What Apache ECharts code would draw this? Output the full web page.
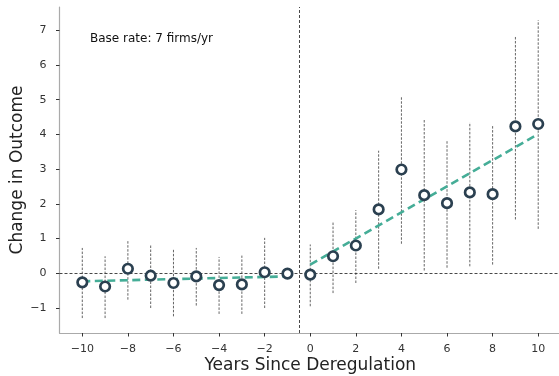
<!DOCTYPE html>
<html>
<head>
<meta charset="utf-8">
<script src="https://cdn.jsdelivr.net/npm/echarts@6/dist/echarts.min.js"></script>
<style>html,body{margin:0;padding:0;background:#fff;}#c{width:559px;height:376px;}</style>
</head>
<body>
<div id="c"></div>
<script>
// ---- data ----
const years = [-10,-9,-8,-7,-6,-5,-4,-3,-2,-1,0,1,2,3,4,5,6,7,8,9,10];
const estimates = [-0.26,-0.38,0.13,-0.07,-0.28,-0.09,-0.34,-0.32,0.03,-0.01,-0.04,0.49,0.80,1.84,2.99,2.25,2.02,2.33,2.28,4.23,4.30];
const ciLow  = [-1.29,-1.29,-0.76,-1.00,-1.24,-0.93,-1.17,-1.17,-1.00,null,-0.95,-0.57,-0.28,0.13,0.85,0.08,0.16,0.20,0.25,1.55,1.28];
const ciHigh = [0.73,0.49,0.95,0.83,0.69,0.73,0.47,0.51,1.02,null,0.83,1.50,1.82,3.53,5.09,4.42,3.82,4.35,4.27,6.84,7.29];
const preTrendX = [-10,-1];
const preTrendY = [-0.23,-0.09];
const postTrendX = [0,10];
const postTrendY = [0.25,4.01];
const xTicks = [-10,-8,-6,-4,-2,0,2,4,6,8,10];
const yTicks = [-1,0,1,2,3,4,5,6,7];
const eventLine = -0.5;
const annotation = 'Base rate: 7 firms/yr';

const fmt = v => (v < 0 ? '\u2212' + Math.abs(v) : String(v));
const font = 'DejaVu Sans';

const errData = [];
years.forEach((y,i)=>{ if (ciLow[i] !== null) errData.push([y, ciLow[i], ciHigh[i]]); });

const chart = echarts.init(document.getElementById('c'), null, {renderer:'canvas'});
chart.setOption({
  animation:false,
  backgroundColor:'#fff',
  grid:{left:59.5, right:-2, top:7, bottom:43, containLabel:false, outerBoundsMode:'none'},
  xAxis:{
    type:'value', min:-11, max:11,
    name:'Years Since Deregulation', nameLocation:'middle', nameGap:24, nameMoveOverlap:false,
    nameTextStyle:{fontFamily:font, fontSize:17, color:'#222'},
    axisLine:{show:true, onZero:false, lineStyle:{color:'#aaa', width:1.2}},
    axisTick:{show:true, length:3.5, lineStyle:{color:'#333'}, customValues:xTicks},
    axisLabel:{fontFamily:font, fontSize:11, color:'#333', margin:10.5, formatter:fmt, customValues:xTicks},
    splitLine:{show:false}
  },
  yAxis:{
    type:'value', min:-1.72, max:7.67,
    name:'Change in Outcome', nameLocation:'middle', nameGap:33, nameMoveOverlap:false,
    nameTextStyle:{fontFamily:font, fontSize:17, color:'#222'},
    axisLine:{show:true, onZero:false, lineStyle:{color:'#aaa', width:1.2}},
    axisTick:{show:true, length:3.5, lineStyle:{color:'#333'}, customValues:yTicks},
    axisLabel:{fontFamily:font, fontSize:11, color:'#333', margin:13, formatter:fmt, customValues:yTicks},
    splitLine:{show:false}
  },
  graphic:[{
    type:'text', left:90, top:33,
    style:{text:annotation, font:'12px "DejaVu Sans"', fill:'#111'}
  }],
  series:[
    {
      type:'custom', name:'ci', z:1,
      data:errData,
      renderItem:(params, api)=>{
        const x = api.value(0);
        const p1 = api.coord([x, api.value(1)]);
        const p2 = api.coord([x, api.value(2)]);
        return {type:'line', shape:{x1:p1[0], y1:p1[1], x2:p2[0], y2:p2[1]},
          style:{stroke:'#555', lineWidth:0.9, lineDash:[2.5,1.5]}};
      }
    },
    {
      type:'line', name:'ref', data:[], z:2,
      markLine:{symbol:'none', silent:true, label:{show:false},
        data:[
          {yAxis:0, lineStyle:{color:'#333', width:0.9, type:[3,2]}},
          {xAxis:eventLine, lineStyle:{color:'#333', width:0.9, type:[3,2]}}
        ]}
    },
    {
      type:'line', name:'pre', z:3, showSymbol:false, symbol:'none',
      data:preTrendX.map((x,i)=>[x, preTrendY[i]]),
      lineStyle:{color:'#45ad97', width:2.6, type:[8,4.5]}
    },
    {
      type:'line', name:'post', z:3, showSymbol:false, symbol:'none',
      data:postTrendX.map((x,i)=>[x, postTrendY[i]]),
      lineStyle:{color:'#45ad97', width:2.6, type:[8,4.5]}
    },
    {
      type:'scatter', name:'est', z:5,
      data:years.map((x,i)=>[x, estimates[i]]),
      symbol:'circle', symbolSize:9.5,
      itemStyle:{color:'#ffffff', borderColor:'#2b4050', borderWidth:2.7, opacity:1}
    }
  ]
});
</script>
</body>
</html>
